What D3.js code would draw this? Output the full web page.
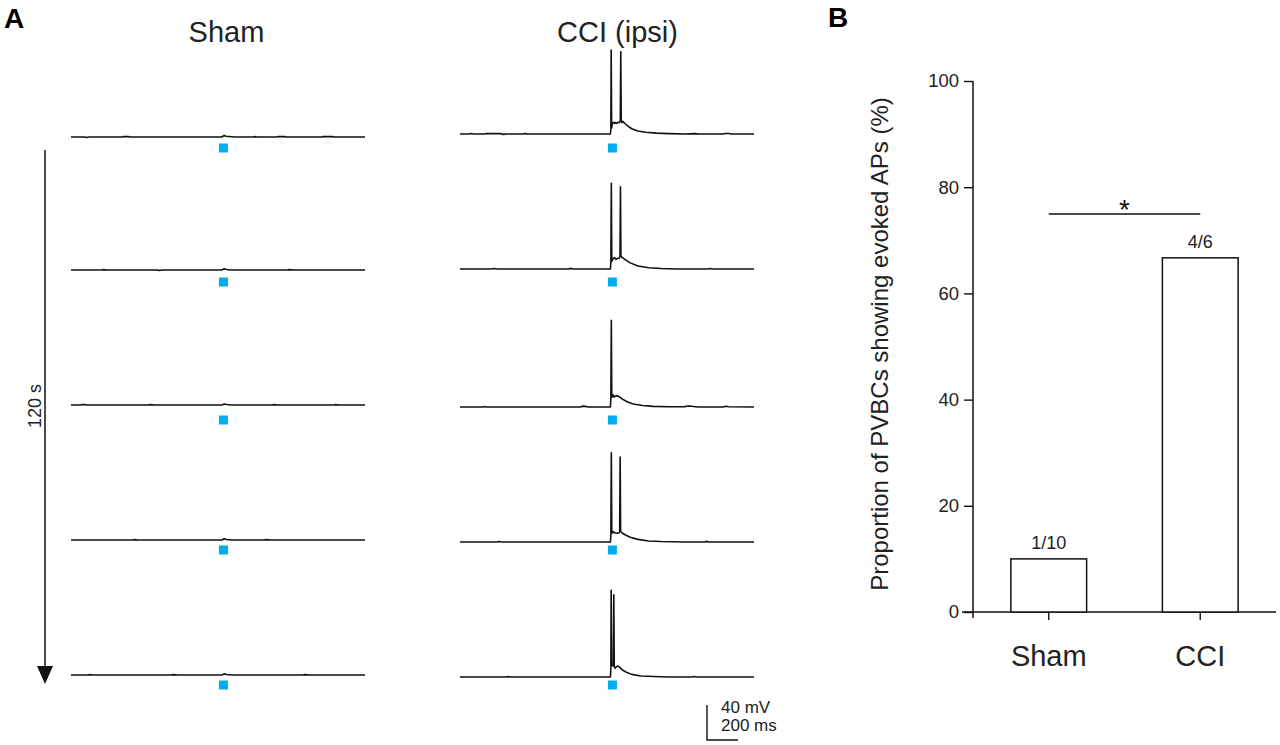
<!DOCTYPE html>
<html>
<head>
<meta charset="utf-8">
<script src="https://cdn.jsdelivr.net/npm/d3@7"></script>
<style>
  html, body { margin: 0; padding: 0; background: #fff; }
  svg { display: block; font-family: "Liberation Sans", Arial, sans-serif; }
</style>
</head>
<body>
<svg id="chart" width="1280" height="745"></svg>
<script>
// ---------------- DATA ----------------
// Panel A: whole-cell recordings, time (ms) vs membrane potential (mV)
const conditions = ["Sham", "CCI (ipsi)"];
const stimulusTime = 985; // ms, blue square marks light stimulus
const scaleBarMs = 200;
const scaleBarMv = 40;
const timeLabel = "120 s";

const shamTraces = [
  [[0,-65],[90,-65],[100,-65.6],[115,-65],[330,-65],[340,-64.6],[370,-64.6],[380,-65],[975,-65],[990,-63.2],[1000,-64.2],[1020,-64.5],[1060,-65],[1180,-65],[1190,-64.6],[1200,-65],[1330,-65],[1340,-64.6],[1380,-64.6],[1390,-65],[1620,-65],[1630,-64.6],[1690,-64.6],[1700,-65],[1900,-65]],
  [[0,-65],[200,-65],[210,-64.6],[230,-65],[560,-65],[570,-65.5],[590,-65],[975,-65],[990,-63.6],[1005,-64.4],[1040,-65],[1400,-65],[1410,-64.6],[1440,-65],[1900,-65]],
  [[0,-65],[60,-65],[70,-64.5],[90,-64.6],[100,-65],[500,-65],[510,-64.6],[540,-65],[975,-65],[990,-63.8],[1005,-64.5],[1040,-65],[1300,-65],[1310,-64.6],[1340,-65],[1700,-65],[1710,-64.6],[1730,-65],[1900,-65]],
  [[0,-65],[400,-65],[410,-64.6],[430,-65],[975,-65],[990,-63.5],[1005,-64.4],[1040,-65],[1250,-65],[1260,-64.6],[1290,-65],[1900,-65]],
  [[0,-65],[110,-65],[120,-64.6],[140,-65],[650,-65],[660,-64.6],[690,-65],[975,-65],[990,-63.7],[1005,-64.5],[1040,-65],[1500,-65],[1510,-64.6],[1540,-65],[1900,-65]]
];

const cciTraces = [
  [[0,-65],[60,-65],[70,-64.4],[90,-65],[160,-65],[170,-64.6],[260,-64.6],[280,-65.4],[300,-65],[410,-65],[420,-64.3],[430,-65],[972,-65],[975,-60],[977,31],[980,-58],[985,-53],[995,-51.5],[1000,-53],[1005,-52],[1012,-53],[1020,-51.5],[1030,-52],[1036,-50.5],[1039,29],[1042,-50],[1047,-52],[1052,-50.5],[1065,-53],[1085,-56],[1110,-59],[1150,-61.5],[1200,-63],[1270,-64],[1350,-64.6],[1450,-65],[1520,-64.6],[1540,-65],[1700,-65],[1710,-64.5],[1740,-64.5],[1750,-65],[1900,-65]],
  [[0,-65],[200,-65],[220,-64.5],[240,-65],[700,-65],[715,-64.3],[730,-65],[972,-65],[975,-58],[978,33],[981,-56],[990,-53],[1000,-52],[1008,-54],[1015,-53],[1030,-52.5],[1034,-51],[1037,29],[1040,-50.5],[1050,-52],[1070,-54.5],[1100,-58],[1150,-61.5],[1220,-63.5],[1300,-64.5],[1400,-65],[1600,-65],[1615,-64.4],[1630,-65],[1900,-65]],
  [[0,-65],[150,-65],[160,-64.5],[170,-65],[780,-65],[790,-64],[810,-64.3],[830,-65],[972,-65],[975,-55],[978,34],[981,-54],[988,-51],[995,-53.5],[1005,-52.5],[1015,-52],[1030,-53.5],[1050,-56],[1080,-59],[1120,-61.5],[1180,-63.3],[1250,-64.3],[1350,-64.8],[1450,-64.6],[1480,-63.8],[1510,-64.5],[1540,-65],[1700,-65],[1720,-64.2],[1735,-64.8],[1900,-65]],
  [[0,-65],[240,-65],[250,-64.5],[270,-65],[972,-65],[975,-57],[978,37],[981,-55],[988,-53],[1000,-54.5],[1015,-55],[1028,-54.5],[1032,-53],[1035,32],[1038,-53],[1050,-55],[1070,-57],[1100,-59.5],[1150,-62],[1220,-63.8],[1300,-64.5],[1450,-65],[1580,-65],[1590,-64.3],[1610,-65],[1900,-65]],
  [[0,-65],[300,-65],[310,-64.6],[330,-65],[972,-65],[975,-56],[977,34],[979,-52],[990,-52],[994,29],[997,-53],[1002,-55],[1012,-53],[1022,-52.5],[1032,-54],[1050,-57],[1075,-59.5],[1110,-62],[1170,-63.8],[1250,-64.5],[1350,-65],[1500,-65],[1510,-64.4],[1530,-65],[1900,-65]]
];

// Panel B: proportion of PVBCs showing evoked APs
const groups = ["Sham", "CCI"];
const proportions = [10, 66.7];
const countLabels = ["1/10", "4/6"];
const yTicks = [0, 20, 40, 60, 80, 100];
const yTitle = "Proportion of PVBCs showing evoked APs (%)";
const significance = "*";

// ---------------- LAYOUT ----------------
const svg = d3.select("#chart");
const font = '"Liberation Sans", Arial, sans-serif';
const stimColor = "#00aeef";

// panel letters
svg.append("text").attr("x", 4).attr("y", 28).attr("font-size", 28).attr("font-weight", "bold").text("A");
svg.append("text").attr("x", 828).attr("y", 27).attr("font-size", 28).attr("font-weight", "bold").text("B");

// Panel A scales
const colX = [[71, 365], [460, 754]];
const shamRowY = [137, 270, 405, 540, 675];
const cciRowY  = [134, 269, 407, 542, 677];
const stimRowY = [148, 282, 420, 550, 685];
const tDomain = [0, 1900];
const xSham = d3.scaleLinear().domain(tDomain).range(colX[0]);
const xCci = d3.scaleLinear().domain(tDomain).range(colX[1]);
const pxPerMv = 0.875;
const vScale = d3.scaleLinear().domain([-65, 35]).range([0, -100 * pxPerMv]);

const titleX = [226.5, 617.5];
conditions.forEach((c, i) => {
  svg.append("text").attr("x", titleX[i]).attr("y", 42).attr("text-anchor", "middle")
    .attr("font-size", 29).attr("fill", "#222").text(c);
});

function drawTraces(traces, xs, rows) {
  traces.forEach((tr, i) => {
    const g = svg.append("g").attr("transform", `translate(0,${rows[i]})`);
    const line = d3.line().x(d => xs(d[0])).y(d => vScale(d[1]));
    g.append("path").datum(tr).attr("d", line).attr("fill", "none")
      .attr("stroke", "#111").attr("stroke-width", 1.6).attr("stroke-linejoin", "round");
    svg.append("rect").attr("x", xs(stimulusTime) - 4.5).attr("y", stimRowY[i] - 4.5)
      .attr("width", 9).attr("height", 9).attr("fill", stimColor);
  });
}
drawTraces(shamTraces, xSham, shamRowY);
drawTraces(cciTraces, xCci, cciRowY);

// time arrow
svg.append("line").attr("x1", 45).attr("x2", 45).attr("y1", 150).attr("y2", 668)
  .attr("stroke", "#111").attr("stroke-width", 1.5);
svg.append("path").attr("d", "M37,666 L53,666 L45,684 Z").attr("fill", "#111");
svg.append("text").attr("transform", "translate(41,406) rotate(-90)").attr("text-anchor", "middle")
  .attr("font-size", 18).attr("fill", "#222").text(timeLabel);

// scale bar
const sbX = 707, sbY = 740;
svg.append("path")
  .attr("d", `M${sbX},${sbY - scaleBarMv * pxPerMv} L${sbX},${sbY} L${sbX + (xCci(scaleBarMs) - xCci(0))},${sbY}`)
  .attr("fill", "none").attr("stroke", "#111").attr("stroke-width", 1.4);
svg.append("text").attr("x", 721).attr("y", 713).attr("font-size", 17).attr("fill", "#222").text(`${scaleBarMv} mV`);
svg.append("text").attr("x", 721).attr("y", 731).attr("font-size", 17).attr("fill", "#222").text(`${scaleBarMs} ms`);

// ---------------- Panel B ----------------
const y = d3.scaleLinear().domain([0, 100]).range([612, 81]);
const x = d3.scaleBand().domain(groups).range([973, 1276]).paddingInner(0.5).paddingOuter(0.25);

const yAxis = svg.append("g").attr("transform", "translate(973,0)")
  .call(d3.axisLeft(y).tickValues(yTicks).tickSize(9).tickSizeOuter(0).tickPadding(5));
yAxis.select(".domain").remove();
yAxis.selectAll("line").attr("stroke", "#111").attr("stroke-width", 1.4);
yAxis.selectAll("text").attr("font-size", 18.5).attr("font-family", font).attr("fill", "#222");
svg.append("line").attr("x1", 973).attr("x2", 973).attr("y1", y(100)).attr("y2", 618)
  .attr("stroke", "#111").attr("stroke-width", 1.5);

const xAxis = svg.append("g").attr("transform", "translate(0,612)")
  .call(d3.axisBottom(x).tickSize(8).tickSizeOuter(0).tickPadding(25));
xAxis.select(".domain").remove();
xAxis.selectAll("line").attr("stroke", "#111").attr("stroke-width", 1.4);
xAxis.selectAll("text").attr("font-size", 29).attr("font-family", font).attr("fill", "#222");
svg.append("line").attr("x1", 962).attr("x2", 1276).attr("y1", 612).attr("y2", 612)
  .attr("stroke", "#111").attr("stroke-width", 1.5);

svg.append("text").attr("transform", "translate(888,344) rotate(-90)").attr("text-anchor", "middle")
  .attr("font-size", 24).attr("fill", "#222").text(yTitle);

svg.selectAll("rect.bar").data(groups).enter().append("rect").attr("class", "bar")
  .attr("x", d => x(d)).attr("width", x.bandwidth())
  .attr("y", (d, i) => y(proportions[i])).attr("height", (d, i) => y(0) - y(proportions[i]))
  .attr("fill", "#fff").attr("stroke", "#111").attr("stroke-width", 1.5);

svg.selectAll("text.count").data(groups).enter().append("text").attr("class", "count")
  .attr("x", d => x(d) + x.bandwidth() / 2).attr("y", (d, i) => y(proportions[i]) - 10)
  .attr("text-anchor", "middle").attr("font-size", 18).attr("fill", "#222")
  .text((d, i) => countLabels[i]);

// significance bracket
const c0 = x(groups[0]) + x.bandwidth() / 2, c1 = x(groups[1]) + x.bandwidth() / 2;
svg.append("line").attr("x1", c0).attr("x2", c1).attr("y1", 214).attr("y2", 214)
  .attr("stroke", "#111").attr("stroke-width", 1.4);
svg.append("text").attr("x", (c0 + c1) / 2).attr("y", 219).attr("text-anchor", "middle")
  .attr("font-size", 28).attr("fill", "#111").text(significance);
</script>
</body>
</html>
